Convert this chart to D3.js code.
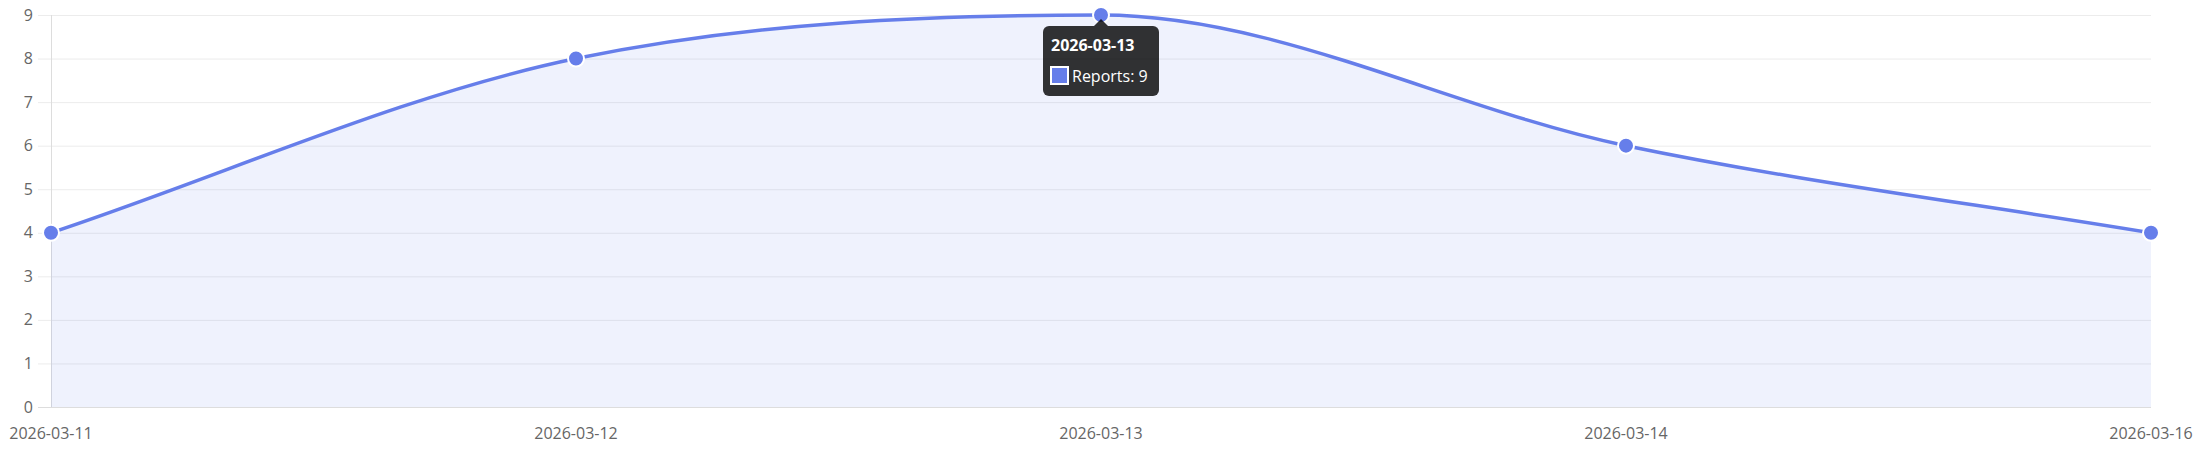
<!DOCTYPE html>
<html>
<head>
<meta charset="utf-8">
<script src="https://cdn.jsdelivr.net/npm/d3@7/dist/d3.min.js"></script>
<style>
  html, body { margin: 0; padding: 0; background: #fff; }
  svg { display: block; font-family: "Segoe UI", "Open Sans", sans-serif; }
</style>
</head>
<body>
<div id="chart"></div>
<script>
const dates = ['2026-03-11', '2026-03-12', '2026-03-13', '2026-03-14', '2026-03-16']
const reports = [4, 8, 9, 6, 4]
const yTicks = [0, 1, 2, 3, 4, 5, 6, 7, 8, 9]
const seriesName = 'Reports'
const activeIndex = 2

const width = 2203
const height = 450
const margin = { top: 15, right: 52, bottom: 43, left: 51 }
const lineColor = '#667eea'
const textColor = '#666'

const svg = d3.select('#chart')
  .append('svg')
  .attr('width', width)
  .attr('height', height)

const x = d3.scalePoint()
  .domain(dates)
  .range([margin.left, width - margin.right])

const y = d3.scaleLinear()
  .domain([0, 9])
  .range([height - margin.bottom, margin.top])

// grid lines
svg.append('g')
  .selectAll('line')
  .data(yTicks)
  .enter()
  .append('line')
  .attr('x1', margin.left - 13)
  .attr('x2', width - margin.right)
  .attr('y1', d => y(d) + 0.5)
  .attr('y2', d => y(d) + 0.5)
  .attr('stroke', d => d === 0 ? '#ddd' : '#ececec')
  .attr('stroke-width', 1)

// left axis line
svg.append('line')
  .attr('x1', margin.left + 0.5)
  .attr('x2', margin.left + 0.5)
  .attr('y1', margin.top)
  .attr('y2', height - margin.bottom)
  .attr('stroke', '#ddd')

// y labels
svg.append('g')
  .selectAll('text')
  .data(yTicks)
  .enter()
  .append('text')
  .attr('x', margin.left - 18)
  .attr('y', d => y(d))
  .attr('dy', '0.35em')
  .attr('text-anchor', 'end')
  .attr('font-size', 16)
  .attr('fill', textColor)
  .text(d => d)

// x labels
svg.append('g')
  .selectAll('text')
  .data(dates)
  .enter()
  .append('text')
  .attr('x', d => x(d))
  .attr('y', height - margin.bottom + 26)
  .attr('dy', '0.35em')
  .attr('text-anchor', 'middle')
  .attr('font-size', 16)
  .attr('fill', textColor)
  .text(d => d)

const data = dates.map((d, i) => ({ date: d, value: reports[i] }))
const pts = data.map(d => [x(d.date), y(d.value)])

// monotone cubic (Fritsch-Carlson, same tangents as chart.js 'monotone')
function monotonePath(points, ctx) {
  const n = points.length
  const delta = []
  for (let i = 0; i < n - 1; i++) {
    delta.push((points[i + 1][1] - points[i][1]) / (points[i + 1][0] - points[i][0]))
  }
  const m = []
  for (let i = 0; i < n; i++) {
    if (i === 0) m.push(delta[0])
    else if (i === n - 1) m.push(delta[n - 2])
    else if (Math.sign(delta[i - 1]) !== Math.sign(delta[i]) || delta[i - 1] === 0 || delta[i] === 0) m.push(0)
    else m.push((delta[i - 1] + delta[i]) / 2)
  }
  for (let i = 0; i < n - 1; i++) {
    if (delta[i] === 0) { m[i] = 0; m[i + 1] = 0; continue }
    const a = m[i] / delta[i]
    const b = m[i + 1] / delta[i]
    const s = a * a + b * b
    if (s > 9) {
      const t = 3 / Math.sqrt(s)
      m[i] = a * t * delta[i]
      m[i + 1] = b * t * delta[i]
    }
  }
  ctx.moveTo(points[0][0], points[0][1])
  for (let i = 0; i < n - 1; i++) {
    const [x0, y0] = points[i]
    const [x1, y1] = points[i + 1]
    const dx = (x1 - x0) / 3
    ctx.bezierCurveTo(x0 + dx, y0 + m[i] * dx, x1 - dx, y1 - m[i + 1] * dx, x1, y1)
  }
  return ctx
}

const linePath = monotonePath(pts, d3.path()).toString()
const areaPath = d3.path()
monotonePath(pts, areaPath)
areaPath.lineTo(pts[pts.length - 1][0], y(0))
areaPath.lineTo(pts[0][0], y(0))
areaPath.closePath()

svg.append('path')
  .attr('d', areaPath.toString())
  .attr('fill', lineColor)
  .attr('fill-opacity', 0.1)

svg.append('path')
  .attr('d', linePath)
  .attr('fill', 'none')
  .attr('stroke', lineColor)
  .attr('stroke-width', 3.5)

svg.append('g')
  .selectAll('circle')
  .data(data)
  .enter()
  .append('circle')
  .attr('cx', d => x(d.date))
  .attr('cy', d => y(d.value))
  .attr('r', 8)
  .attr('fill', lineColor)
  .attr('stroke', '#fff')
  .attr('stroke-width', 2)

// tooltip
const active = data[activeIndex]
const tx = x(active.date)
const ty = y(active.value)
const tip = svg.append('g').attr('transform', `translate(${tx},${ty})`)
const boxW = 116
const boxH = 70
const boxX = -58
const boxY = 11

tip.append('path')
  .attr('d', `M${-7},${boxY} L0,${boxY - 7} L7,${boxY} Z`)
  .attr('fill', 'rgba(0,0,0,0.8)')
tip.append('rect')
  .attr('x', boxX)
  .attr('y', boxY)
  .attr('width', boxW)
  .attr('height', boxH)
  .attr('rx', 6)
  .attr('fill', 'rgba(0,0,0,0.8)')
tip.append('text')
  .attr('x', boxX + 8)
  .attr('y', boxY + 19)
  .attr('dy', '0.35em')
  .attr('font-size', 16)
  .attr('font-weight', 'bold')
  .attr('fill', '#fff')
  .text(active.date)
tip.append('rect')
  .attr('x', boxX + 8)
  .attr('y', boxY + 41)
  .attr('width', 17)
  .attr('height', 17)
  .attr('fill', lineColor)
  .attr('stroke', '#fff')
  .attr('stroke-width', 2)
tip.append('text')
  .attr('x', boxX + 29)
  .attr('y', boxY + 50)
  .attr('dy', '0.35em')
  .attr('font-size', 16)
  .attr('fill', '#fff')
  .text(`${seriesName}: ${active.value}`)
</script>
</body>
</html>
